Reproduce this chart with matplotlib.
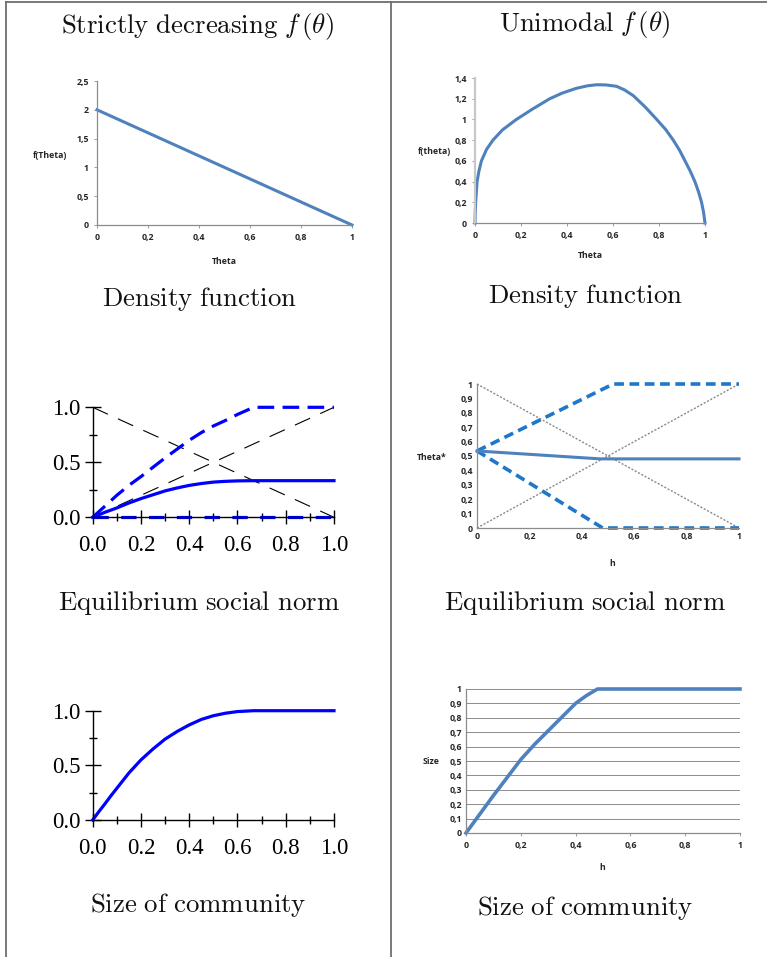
import matplotlib
matplotlib.use("Agg")
import matplotlib.pyplot as plt
from matplotlib.lines import Line2D
from matplotlib.ticker import MultipleLocator

plt.rcParams["mathtext.fontset"] = "cm"
plt.rcParams["lines.scale_dashes"] = False

W, H = 767, 957

# --- data ------------------------------------------------------------------
# top-left: strictly decreasing density
dec_theta = [0.0, 1.0]
dec_f = [2.0, 0.0]

# top-right: unimodal density
uni_theta = [0.0, 0.001, 0.003, 0.009, 0.017, 0.028, 0.05, 0.078, 0.12,
             0.18, 0.25, 0.325, 0.38, 0.44, 0.49, 0.53, 0.57, 0.615, 0.65,
             0.688, 0.74, 0.79, 0.83, 0.862, 0.89, 0.913, 0.936, 0.956,
             0.972, 0.985, 0.994, 1.0]
uni_f = [0.0, 0.1, 0.2, 0.4, 0.5, 0.6, 0.71, 0.8, 0.9,
         1.0, 1.1, 1.2, 1.255, 1.3, 1.325, 1.335, 1.333, 1.32, 1.285,
         1.23, 1.12, 1.0, 0.9, 0.8, 0.7, 0.6, 0.5, 0.4,
         0.3, 0.2, 0.1, 0.0]

# middle-left: equilibrium social norm (decreasing f)
norm_h = [0.0, 0.05, 0.1, 0.15, 0.2, 0.25, 0.3, 0.35, 0.4, 0.45, 0.5,
          0.55, 0.6, 0.667, 1.0]
norm_high = [0.0, 0.1, 0.2, 0.29, 0.37, 0.455, 0.54, 0.62, 0.70, 0.77,
             0.83, 0.88, 0.935, 1.0, 1.0]
norm_mid = [0.0, 0.045, 0.085, 0.13, 0.17, 0.205, 0.24, 0.267, 0.29,
            0.307, 0.32, 0.327, 0.331, 0.333, 0.333]
norm_low_h = [0.0, 1.0]
norm_low = [0.0, 0.0]
diag_h = [0.0, 1.0]
diag_up = [0.0, 1.0]
diag_down = [1.0, 0.0]

# middle-right: equilibrium social norm (unimodal f)
uni_up_h = [0.0, 0.52, 1.0]
uni_up = [0.535, 1.0, 1.0]
uni_mid_h = [0.0, 0.47, 1.0]
uni_mid = [0.535, 0.48, 0.48]
uni_low_h = [0.0, 0.48, 1.0]
uni_low = [0.535, 0.0, 0.0]

# bottom-left: size of community (decreasing f)
size_h = [0.0, 0.025, 0.05, 0.075, 0.1, 0.125, 0.15, 0.175, 0.2, 0.25,
          0.3, 0.35, 0.4, 0.45, 0.5, 0.55, 0.6, 0.667, 1.0]
size_v = [0.0, 0.075, 0.146, 0.22, 0.29, 0.36, 0.43, 0.49, 0.55, 0.65,
          0.74, 0.81, 0.87, 0.92, 0.954, 0.977, 0.992, 1.0, 1.0]

# bottom-right: size of community (unimodal f)
usize_h = [0.0, 0.05, 0.1, 0.15, 0.2, 0.25, 0.3, 0.35, 0.4, 0.44, 0.48, 1.0]
usize_v = [0.0, 0.13, 0.26, 0.385, 0.51, 0.615, 0.71, 0.805, 0.9, 0.955,
           1.0, 1.0]

# tick labels (Excel, decimal comma)
ticks_02 = [0, 0.2, 0.4, 0.6, 0.8, 1.0]
labels_02 = ["0", "0,2", "0,4", "0,6", "0,8", "1"]
ticks_dec = [0, 0.5, 1.0, 1.5, 2.0, 2.5]
labels_dec = ["0", "0,5", "1", "1,5", "2", "2,5"]
ticks_uni = [0, 0.2, 0.4, 0.6, 0.8, 1.0, 1.2, 1.4]
labels_uni = ["0", "0,2", "0,4", "0,6", "0,8", "1", "1,2", "1,4"]
ticks_01 = [i / 10 for i in range(11)]
labels_01 = ["0"] + [f"0,{i}" for i in range(1, 10)] + ["1"]

XL_BLUE = "#4F81BD"
XL_DASH = "#1F77C8"
XL_GREY = "#8C8C8C"
XL_FONT = dict(family="Open Sans", weight="bold", size=6.3, color="#262626")


def rect(left, top, right, bottom):
    return [left / W, 1 - bottom / H, (right - left) / W, (bottom - top) / H]


def ftext(x, y, s, **kw):
    fig.text(x / W, 1 - y / H, s, ha="center", va="center", **kw)


def excel_axes(ax, xt, xl, yt, yl, ylim, grid=False):
    ax.set_xlim(0, 1)
    ax.set_ylim(*ylim)
    ax.set_xticks(xt)
    ax.set_xticklabels(xl, **XL_FONT)
    ax.set_yticks(yt)
    ax.set_yticklabels(yl, **XL_FONT)
    for s in ("top", "right"):
        ax.spines[s].set_visible(False)
    for s in ("left", "bottom"):
        ax.spines[s].set_color(XL_GREY)
        ax.spines[s].set_linewidth(0.9)
    ax.tick_params(length=2, width=0.6, color=XL_GREY, pad=4)
    if grid:
        ax.yaxis.grid(True, color=XL_GREY, lw=0.7)
        ax.set_axisbelow(True)
        ax.tick_params(axis="y", length=0, pad=3)


def latex_axes(ax):
    ax.set_xlim(0, 1)
    ax.set_ylim(0, 1)
    for s in ("top", "right"):
        ax.spines[s].set_visible(False)
    for s in ("left", "bottom"):
        ax.spines[s].set_linewidth(1.0)
    ax.xaxis.set_major_locator(MultipleLocator(0.2))
    ax.xaxis.set_minor_locator(MultipleLocator(0.1))
    ax.yaxis.set_major_locator(MultipleLocator(0.5))
    ax.yaxis.set_minor_locator(MultipleLocator(0.25))
    ax.xaxis.set_major_formatter("{x:.1f}")
    ax.yaxis.set_major_formatter("{x:.1f}")
    ax.tick_params(axis="x", which="major", direction="inout", length=9.6, width=1, pad=8)
    ax.tick_params(axis="x", which="minor", direction="inout", length=5.3, width=1)
    ax.tick_params(axis="y", which="major", direction="inout", length=11.5, width=1, pad=3)
    ax.tick_params(axis="y", which="minor", direction="inout", length=5.8, width=1)
    for lab in ax.get_xticklabels() + ax.get_yticklabels():
        lab.set_fontfamily("Liberation Serif")
        lab.set_fontsize(16.5)


fig = plt.figure(figsize=(W / 100, H / 100), dpi=100)

# table frame
frame = dict(color="#6E6E6E", lw=1.3, transform=fig.transFigure)
fig.add_artist(Line2D([6 / W, 1], [1 - 2 / H, 1 - 2 / H], **frame))
fig.add_artist(Line2D([6 / W, 6 / W], [0, 1 - 2 / H], **frame))
fig.add_artist(Line2D([391 / W, 391 / W], [0, 1 - 2 / H], **frame))

# column headers and captions
cap = dict(fontsize=19.3, color="#111111")
ftext(198, 26, r"$\mathrm{Strictly\ decreasing}\ f\,(\theta)$", **cap)
ftext(585, 24, r"$\mathrm{Unimodal}\ f\,(\theta)$", **cap)
ftext(199, 299, r"$\mathrm{Density\ function}$", **cap)
ftext(585, 296, r"$\mathrm{Density\ function}$", **cap)
ftext(199, 603, r"$\mathrm{Equilibrium\ social\ norm}$", **cap)
ftext(585, 603, r"$\mathrm{Equilibrium\ social\ norm}$", **cap)
ftext(198, 905, r"$\mathrm{Size\ of\ community}$", **cap)
ftext(585, 908, r"$\mathrm{Size\ of\ community}$", **cap)

# --- top-left -----------------------------------------------------------------
ax1 = fig.add_axes(rect(97, 81, 352, 225))
ax1.plot(dec_theta, dec_f, color=XL_BLUE, lw=2.2, clip_on=False)
excel_axes(ax1, ticks_02, labels_02, ticks_dec, labels_dec, (0, 2.5))
ftext(50, 155, "f(Theta)", **XL_FONT)
ftext(224, 261, "Theta", **XL_FONT)

# --- top-right ----------------------------------------------------------------
ax2 = fig.add_axes(rect(475, 78, 705, 223))
ax2.plot(uni_theta, uni_f, color=XL_BLUE, lw=2.2, clip_on=False,
         solid_joinstyle="round")
excel_axes(ax2, ticks_02, labels_02, ticks_uni, labels_uni, (0, 1.4))
ax2.spines["left"].set_color("#C8C8C8")
ax2.spines["left"].set_linewidth(1.6)
ftext(434, 152, "f(theta)", **XL_FONT)
ftext(590, 255, "Theta", **XL_FONT)

# --- middle-left --------------------------------------------------------------
ax3 = fig.add_axes(rect(92.7, 407.3, 334, 517.3))
ax3.plot(diag_h, diag_down, color="black", lw=0.8, dashes=(12, 8), clip_on=False)
ax3.plot(diag_h, diag_up, color="black", lw=0.8, dashes=(12, 8), clip_on=False)
ax3.plot(norm_h, norm_high, color="blue", lw=2.3, dashes=(12, 6), clip_on=False)
ax3.plot(norm_low_h, norm_low, color="blue", lw=2.3, dashes=(11, 9), clip_on=False)
ax3.plot(norm_h, norm_mid, color="blue", lw=2.3, clip_on=False,
         solid_joinstyle="round")
latex_axes(ax3)

# --- middle-right -------------------------------------------------------------
ax4 = fig.add_axes(rect(477, 384, 739, 528))
ax4.plot(diag_h, diag_down, color="#8A8A8A", lw=1.0, dashes=(1.5, 1.2), clip_on=False)
ax4.plot(diag_h, diag_up, color="#8A8A8A", lw=1.0, dashes=(1.5, 1.2), clip_on=False)
ax4.plot(uni_up_h, uni_up, color=XL_DASH, lw=2.6, dashes=(7, 4), clip_on=False)
ax4.plot(uni_low_h, uni_low, color=XL_DASH, lw=2.6, dashes=(7, 4), clip_on=False)
ax4.plot(uni_mid_h, uni_mid, color=XL_BLUE, lw=2.2, clip_on=False)
excel_axes(ax4, ticks_02, labels_02, ticks_01, labels_01, (0, 1))
ax4.tick_params(length=0, pad=3)
ftext(432, 457, "Theta*", **XL_FONT)
ftext(612, 563, "h", **XL_FONT)

# --- bottom-left --------------------------------------------------------------
ax5 = fig.add_axes(rect(92.7, 710.7, 334, 820))
ax5.plot(size_h, size_v, color="blue", lw=2.3, clip_on=False,
         solid_joinstyle="round")
latex_axes(ax5)

# --- bottom-right -------------------------------------------------------------
ax6 = fig.add_axes(rect(466, 689, 740, 833))
ax6.plot(usize_h, usize_v, color=XL_BLUE, lw=2.6, clip_on=False,
         solid_joinstyle="round")
excel_axes(ax6, ticks_02, labels_02, ticks_01, labels_01, (0, 1), grid=True)
ftext(431, 762, "Size", **XL_FONT)
ftext(602, 868, "h", **XL_FONT)

fig.savefig("out.png", dpi=100)
